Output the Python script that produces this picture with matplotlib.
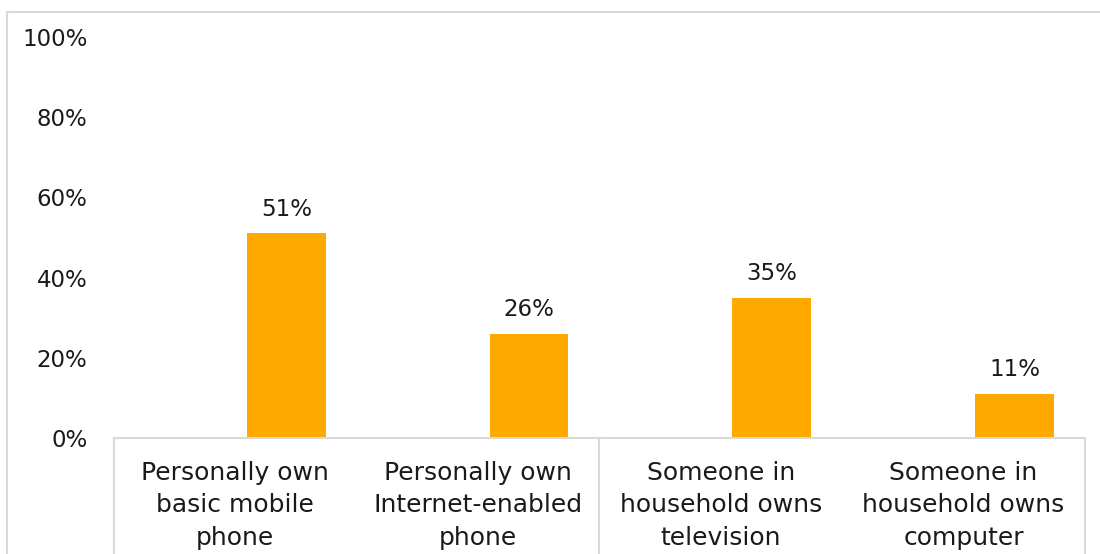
import matplotlib.pyplot as plt
from matplotlib.patches import Rectangle
from matplotlib.ticker import PercentFormatter

categories = ["Personally own\nbasic mobile\nphone",
              "Personally own\nInternet-enabled\nphone",
              "Someone in\nhousehold owns\ntelevision",
              "Someone in\nhousehold owns\ncomputer"]
shares = [0.51, 0.26, 0.35, 0.11]
yticks = [0, 0.2, 0.4, 0.6, 0.8, 1.0]

plt.rcParams['font.family'] = ['DejaVu Sans']
text_color = '#1a1a1a'
line_color = '#d9d9d9'
bar_color = '#ffa800'
fsize = 16.5

fig = plt.figure(figsize=(11, 5.54), dpi=100)
ax = fig.add_axes([0.1036, 0.2094, 0.8827, 0.7238])

# chart frame
fig.patches.append(Rectangle((7 / 1100, -0.5), 2, 1.5 - 12 / 554, transform=fig.transFigure,
                             fill=False, edgecolor=line_color, linewidth=1.5))

x = list(range(len(categories)))
bar_x = [i + 0.21 for i in x]
bars = ax.bar(bar_x, shares, width=0.325, color=bar_color)

for b, v in zip(bars, shares):
    ax.annotate(f"{round(v * 100)}%", (b.get_x() + b.get_width() / 2, v),
                xytext=(0, 9), textcoords='offset points', ha='center', va='bottom',
                fontsize=fsize, color=text_color)

ax.set_xlim(-0.5, 3.5)
ax.set_ylim(0, 1.0)
ax.set_yticks(yticks)
ax.yaxis.set_major_formatter(PercentFormatter(1.0, decimals=0))
ax.tick_params(axis='y', length=0, pad=19, labelsize=fsize, labelcolor=text_color)
ax.set_xticks([])
for s in ax.spines.values():
    s.set_visible(False)

# category axis: baseline plus group dividers
ax.plot([-0.5, 3.5], [0, 0], color=line_color, lw=1.5, clip_on=False)
for xb in [-0.5, 1.5, 3.5]:
    ax.plot([xb, xb], [0, -0.4], color=line_color, lw=1.5, clip_on=False)

for i, lab in enumerate(categories):
    ax.text(i, -0.058, lab, ha='center', va='top', fontsize=18, color=text_color,
            linespacing=1.43)

fig.savefig('out.png', dpi=100)
